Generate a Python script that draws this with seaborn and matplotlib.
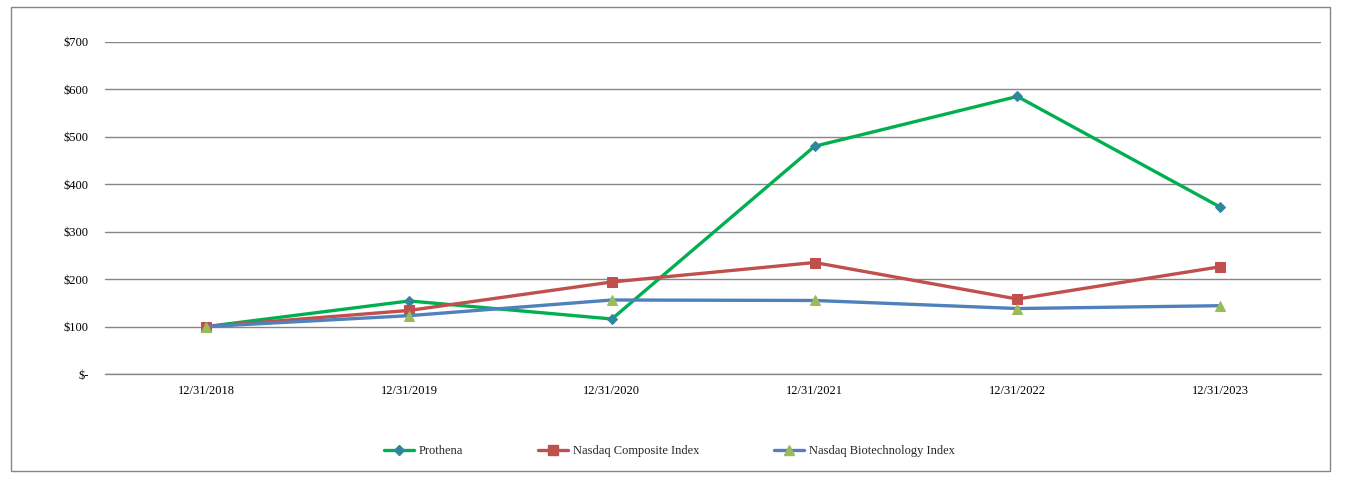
import matplotlib
matplotlib.use("Agg")
import matplotlib.pyplot as plt
from matplotlib.patches import Rectangle
from matplotlib.lines import Line2D
import seaborn as sns

# Data
dates = ["12/31/2018", "12/31/2019", "12/31/2020", "12/31/2021", "12/31/2022", "12/31/2023"]
prothena = [100, 154, 116, 480, 585, 352]
nasdaq_composite = [100, 134, 194, 235, 158, 226]
nasdaq_biotech = [100, 123, 156, 155, 138, 144]
y_ticks = [0, 100, 200, 300, 400, 500, 600, 700]
y_labels = ["$-", "$100", "$200", "$300", "$400", "$500", "$600", "$700"]

sns.set_theme(style="white")
plt.rcParams["font.family"] = ["Liberation Serif", "DejaVu Serif"]

fig = plt.figure(figsize=(13.47, 4.87), dpi=100)
ax = fig.add_axes([0.078, 0.232, 0.903, 0.682])

positions = list(range(len(dates)))

series = [
    ("Prothena", prothena, "#00B050", "D", "#31859C", 5.5),
    ("Nasdaq Composite Index", nasdaq_composite, "#C0504D", "s", "#C0504D", 7),
    ("Nasdaq Biotechnology Index", nasdaq_biotech, "#4F81BD", "^", "#9BBB59", 7.5),
]

handles = []
for name, values, line_color, marker, marker_color, msize in series:
    sns.lineplot(x=positions, y=values, ax=ax, color=line_color, linewidth=2.4,
                 marker=marker, markersize=msize, markerfacecolor=marker_color,
                 markeredgecolor=marker_color, zorder=3)
    handles.append(Line2D([], [], color=line_color, linewidth=2.4, marker=marker,
                          markersize=msize, markerfacecolor=marker_color,
                          markeredgecolor=marker_color, label=name))

ax.set_xlim(-0.5, len(dates) - 0.5)
ax.set_ylim(0, 700)
ax.set_xticks(positions)
ax.set_xticklabels(dates)
ax.set_yticks(y_ticks)
ax.set_yticklabels(y_labels)
ax.tick_params(axis="both", labelsize=9, length=0, colors="black")
ax.tick_params(axis="x", pad=8)
ax.tick_params(axis="y", pad=12)
ax.grid(axis="y", color="#868686", linewidth=1)
ax.set_axisbelow(True)
for spine in ax.spines.values():
    spine.set_visible(False)
# baseline at $0 drawn unclipped so it shows at full width
ax.axhline(0, color="#868686", linewidth=1, clip_on=False, zorder=1)
ax.set_xlabel("")
ax.set_ylabel("")

fig.legend(handles=handles, loc="center", bbox_to_anchor=(0.497, 0.074), ncol=3,
           frameon=False, fontsize=9, handlelength=2.4, columnspacing=6,
           handletextpad=0.4)

fig.patches.append(Rectangle((11 / 1347, 1 - 471 / 487), 1319 / 1347, 464 / 487,
                             transform=fig.transFigure, fill=False,
                             edgecolor="#868686", linewidth=1))

fig.savefig("out.png", dpi=100)
